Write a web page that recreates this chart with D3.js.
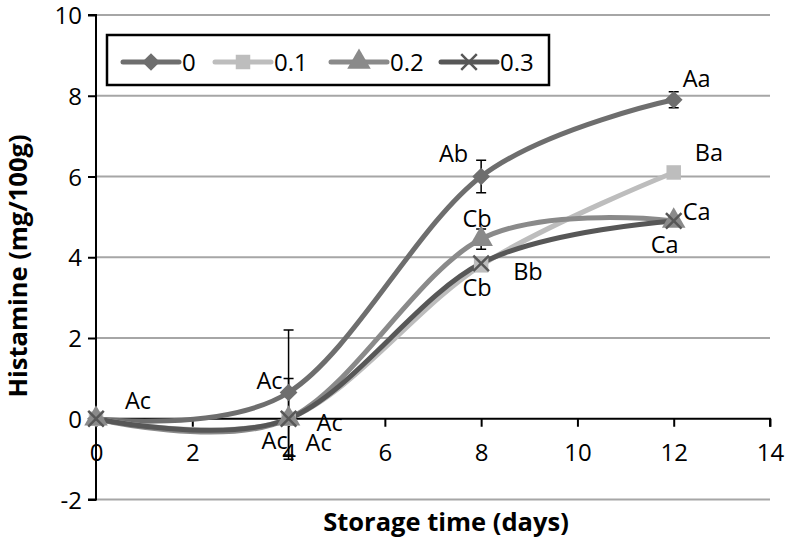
<!DOCTYPE html>
<html><head><meta charset="utf-8">
<script src="https://cdn.jsdelivr.net/npm/d3@7"></script>
<style>body{margin:0;background:#fff}svg{display:block}text{font-family:"Open Sans",sans-serif}</style>
</head><body><svg id="c" width="786" height="540"></svg>
<script>
const days = [0, 4, 8, 12];
const seriesNames = ["0", "0.1", "0.2", "0.3"];
const s0 = [0, 0.65, 6.0, 7.9];
const s01 = [0, 0, 3.8, 6.1];
const s02 = [0, 0, 4.45, 4.9];
const s03 = [0, 0, 3.85, 4.9];
const err0 = [0, 1.55, 0.4, 0.2];
const err02 = [0, 0, 0.25, 0];
const err03 = [0, 1.0, 0, 0];
const labels0 = ["Ac", "Ac", "Ab", "Aa"];
const labels01 = ["", "Ac", "Bb", "Ba"];
const labels02 = ["", "Ac", "Cb", "Ca"];
const labels03 = ["", "Ac", "Cb", "Ca"];
const xTicks = [0, 2, 4, 6, 8, 10, 12, 14];
const yTicks = [-2, 0, 2, 4, 6, 8, 10];
const colors = ["#6e6e6e", "#bdbdbd", "#8a8a8a", "#575757"];
const symbols = [d3.symbolDiamond2, d3.symbolSquare, d3.symbolTriangle, d3.symbolX];

const svg = d3.select("#c");
const x = d3.scaleLinear().domain([0, 14]).range([96, 770]);
const y = d3.scaleLinear().domain([-2, 10]).range([499.5, 15]);
const fmt = d => String(d);

// gridlines
svg.append("g").selectAll("line").data(yTicks.filter(v => v !== 0)).join("line")
  .attr("x1", x(0)).attr("x2", x(14)).attr("y1", d => y(d)).attr("y2", d => y(d))
  .attr("stroke", "#a6a6a6").attr("stroke-width", 2);

// y axis
const yAx = svg.append("g").attr("transform", `translate(${x(0)},0)`)
  .call(d3.axisLeft(y).tickValues(yTicks).tickSize(8).tickPadding(6).tickFormat(fmt));
yAx.select(".domain").attr("stroke", "#000").attr("stroke-width", 2).attr("d", `M-8,${y(-2)}H0V${y(10)}H-8`);
yAx.selectAll(".tick line").attr("stroke", "#000").attr("stroke-width", 2);
yAx.selectAll(".tick text").attr("font-size", 24).attr("fill", "#000").attr("font-family", "Open Sans").attr("dy", "0.36em");

// x axis at y=0
const xAx = svg.append("g").attr("transform", `translate(0,${y(0)})`)
  .call(d3.axisBottom(x).tickValues(xTicks).tickSize(8).tickPadding(17).tickFormat(fmt));
xAx.select(".domain").attr("stroke", "#000").attr("stroke-width", 2).attr("d", `M${x(0)},0H${x(14)}V8`);
xAx.selectAll(".tick line").attr("stroke", "#000").attr("stroke-width", 2);
xAx.selectAll(".tick text").attr("font-size", 24).attr("fill", "#000").attr("font-family", "Open Sans");

// axis titles
svg.append("text").attr("x", 446).attr("y", 531).attr("text-anchor", "middle")
  .attr("font-size", 25.5).attr("font-weight", "bold").text("Storage time (days)");
svg.append("text").attr("transform", `translate(27,${266}) rotate(-90)`).attr("text-anchor", "middle")
  .attr("font-size", 25.5).attr("font-weight", "bold").text("Histamine (mg/100g)");

const series = [
  {vals: s0, err: err0, labels: labels0},
  {vals: s01, err: null, labels: labels01},
  {vals: s02, err: err02, labels: labels02},
  {vals: s03, err: err03, labels: labels03}
];
const line = d3.line().x(d => x(d[0])).y(d => y(d[1])).curve(d3.curveCardinal.tension(0));

// error bars
series.forEach((s, i) => {
  if (!s.err) return;
  const g = svg.append("g");
  days.forEach((d, j) => {
    const e = s.err[j];
    if (!e) return;
    const cx = x(d), t = y(s.vals[j] + e), b = y(s.vals[j] - e);
    g.append("path").attr("d", `M${cx},${t}V${b}M${cx-5},${t}H${cx+5}M${cx-5},${b}H${cx+5}`)
      .attr("stroke", "#000").attr("stroke-width", 1.5).attr("fill", "none");
  });
});

// lines
series.forEach((s, i) => {
  svg.append("path").datum(days.map((d, j) => [d, s.vals[j]]))
    .attr("d", line).attr("fill", "none").attr("stroke", colors[i]).attr("stroke-width", 5)
    .attr("stroke-linecap", "round");
});
// markers
function marker(g, i, cx, cy) {
  const sz = [200, 210, 240, 160][i];
  const p = g.append("path").attr("d", d3.symbol().type(symbols[i]).size(sz)())
    .attr("transform", `translate(${cx},${cy})`);
  if (i === 3) p.attr("fill", "none").attr("stroke", colors[i]).attr("stroke-width", 2.5);
  else p.attr("fill", colors[i]);
}
series.forEach((s, i) => {
  const g = svg.append("g");
  days.forEach((d, j) => marker(g, i, x(d), y(s.vals[j])));
});

// data labels
const labelOffsets = [
  [[29, -10, "start"], [-6, -4, "end"], [-13, -15, "end"], [9, -13, "start"]],
  [null, [28, 12, "start"], [32, 15, "start"], [21, -11, "start"]],
  [null, [-27, 30, "start"], [-4, -12, "middle"]  , [-9, 32, "middle"]],
  [null, [17, 32, "start"], [-4, 33, "middle"], [9, -1, "start"]]
];
series.forEach((s, i) => {
  days.forEach((d, j) => {
    const o = labelOffsets[i][j];
    if (!o || !s.labels[j]) return;
    svg.append("text").attr("x", x(d) + o[0]).attr("y", y(s.vals[j]) + o[1])
      .attr("text-anchor", o[2]).attr("font-size", 23.5).attr("fill", "#000").text(s.labels[j]);
  });
});

// legend
const lg = svg.append("g");
lg.append("rect").attr("x", 107).attr("y", 35).attr("width", 442).attr("height", 50)
  .attr("fill", "#fff").attr("stroke", "#000").attr("stroke-width", 2.5);
const legX = [123, 215, 331, 441];
seriesNames.forEach((n, i) => {
  const lx = legX[i], ly = 62;
  lg.append("line").attr("x1", lx).attr("x2", lx + 56).attr("y1", ly).attr("y2", ly)
    .attr("stroke", colors[i]).attr("stroke-width", 5).attr("stroke-linecap", "round");
  marker(lg, i, lx + 28, ly);
  lg.append("text").attr("x", lx + 59).attr("y", ly + 9).attr("font-size", 24).attr("fill", "#000").text(n);
});
</script></body></html>
